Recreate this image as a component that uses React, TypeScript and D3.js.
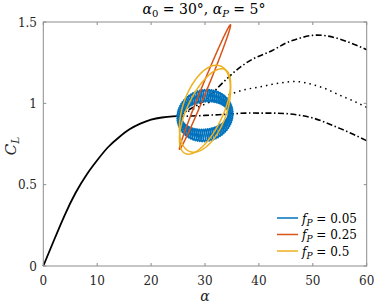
import React from "react";
import * as d3 from "d3";

// ---- data ----
const staticAlpha = [0, 2, 4, 6, 8, 10, 12, 14, 16, 18, 20, 22, 24, 25];
const staticCL = [0, 0.16, 0.315, 0.45, 0.56, 0.65, 0.73, 0.79, 0.84, 0.875, 0.9, 0.913, 0.92, 0.921];

const branchAlpha = [25, 27.5, 30, 32.5, 35, 37.5, 40, 42.5, 45, 47.5, 50, 52.5, 55, 57.5, 60];
const upperCL = [0.92, 0.97, 1.02, 1.1, 1.18, 1.245, 1.29, 1.325, 1.37, 1.4, 1.418, 1.415, 1.395, 1.365, 1.33];
const middleCL = [0.92, 0.96, 0.995, 1.03, 1.06, 1.085, 1.1, 1.117, 1.13, 1.133, 1.115, 1.088, 1.05, 1.015, 0.975];
const lowerCL = [0.92, 0.922, 0.926, 0.93, 0.935, 0.94, 0.94, 0.94, 0.937, 0.927, 0.91, 0.88, 0.846, 0.81, 0.77];

// loop descriptors: mean CL, in-phase and quadrature amplitudes
const alpha0 = 30;
const alphaP = 4.75;
const blueLoop = { c: 0.925, p: 0.012, q: 0.122 };
const blueRipple = { n: 25, aAlpha: 0.45, aCL: 0.038 };
const bluePhases = [0, 2.09, 4.19];
const redLoop = { c: 1.1, p: 0.38, q: 0.045 };
const yellowLoops = [
  { c: 0.967, p: 0.118, q: 0.24 },
  { c: 0.95, p: 0.17, q: 0.2 },
];

const xTicks = [0, 10, 20, 30, 40, 50, 60];
const yTicks = [0, 0.5, 1, 1.5];
const legendLabels = ["0.05", "0.25", "0.5"];
const colors = ["#0072BD", "#D95319", "#EDB120"];

const W = 374, H = 305;
const x = d3.scaleLinear().domain([0, 60]).range([43.3, 366.7]);
const y = d3.scaleLinear().domain([0, 1.5]).range([266, 22]);

const line = d3.line<[number, number]>().x(d => x(d[0])).y(d => y(d[1]));
const smooth = d3.line<[number, number]>().x(d => x(d[0])).y(d => y(d[1])).curve(d3.curveNatural);

function ellipse(l: { c: number; p: number; q: number }, steps = 240): [number, number][] {
  const pts: [number, number][] = [];
  for (let i = 0; i <= steps; i++) {
    const t = (i / steps) * Math.PI * 2;
    pts.push([alpha0 + alphaP * Math.sin(t), l.c + l.p * Math.sin(t) + l.q * Math.cos(t)]);
  }
  return pts;
}

function rippled(phase: number): [number, number][] {
  const pts: [number, number][] = [];
  const steps = 1200;
  for (let i = 0; i <= steps; i++) {
    const t = (i / steps) * Math.PI * 2;
    const w = Math.sin(blueRipple.n * t + phase);
    pts.push([
      alpha0 + alphaP * Math.sin(t) + blueRipple.aAlpha * Math.sin(t) * w,
      blueLoop.c + blueLoop.p * Math.sin(t) + blueLoop.q * Math.cos(t) + blueRipple.aCL * Math.cos(t) * w,
    ]);
  }
  return pts;
}

const serif = "'DejaVu Serif'";
const axisColor = "#8c8c8c";

export default function App() {
  const staticPts = staticAlpha.map((a, i) => [a, staticCL[i]] as [number, number]);
  const up = branchAlpha.map((a, i) => [a, upperCL[i]] as [number, number]);
  const mid = branchAlpha.map((a, i) => [a, middleCL[i]] as [number, number]);
  const low = branchAlpha.map((a, i) => [a, lowerCL[i]] as [number, number]);
  const x0 = x(0), x1 = x(60), y0 = y(0), y1 = y(1.5);
  const ts = { fontFamily: serif };
  return (
    <svg width={W} height={H} style={{ position: "absolute", left: 0, top: 0, background: "#fff" }}>
      <rect x={0} y={0} width={W} height={H} fill="#fff" />
      {/* curves */}
      <path d={smooth(staticPts) || ""} fill="none" stroke="#000" strokeWidth={1.8} />
      <path d={smooth(up) || ""} fill="none" stroke="#000" strokeWidth={1.6} strokeDasharray="6 2.5 1.5 2.5" />
      <path d={smooth(mid) || ""} fill="none" stroke="#000" strokeWidth={1.5} strokeDasharray="1.5 4" />
      <path d={smooth(low) || ""} fill="none" stroke="#000" strokeWidth={1.6} strokeDasharray="6 2.5 1.5 2.5" />
      {bluePhases.map((ph, i) => (
        <path key={"b" + i} d={line(rippled(ph)) || ""} fill="none" stroke={colors[0]} strokeWidth={1.5} />
      ))}
      <path d={line(ellipse(redLoop)) || ""} fill="none" stroke={colors[1]} strokeWidth={1.5} />
      {yellowLoops.map((l, i) => (
        <path key={"y" + i} d={line(ellipse(l)) || ""} fill="none" stroke={colors[2]} strokeWidth={1.5} />
      ))}
      {/* axes box */}
      <rect x={x0} y={y1} width={x1 - x0} height={y0 - y1} fill="none" stroke={axisColor} strokeWidth={1} />
      {xTicks.map(t => (
        <g key={"xt" + t}>
          <line x1={x(t)} x2={x(t)} y1={y0} y2={y0 - 3} stroke={axisColor} />
          <line x1={x(t)} x2={x(t)} y1={y1} y2={y1 + 3} stroke={axisColor} />
          <text style={ts} x={x(t)} y={285} textAnchor="middle" fontSize={12} fill="#262626">{t}</text>
        </g>
      ))}
      {yTicks.map(t => (
        <g key={"yt" + t}>
          <line x1={x0} x2={x0 + 3} y1={y(t)} y2={y(t)} stroke={axisColor} />
          <line x1={x1} x2={x1 - 3} y1={y(t)} y2={y(t)} stroke={axisColor} />
          <text style={ts} x={37} y={y(t) + 4.5} textAnchor="end" fontSize={12} fill="#262626">{t}</text>
        </g>
      ))}
      {/* labels */}
      <text style={ts} x={205} y={301} textAnchor="middle" fontSize={14} fontStyle="italic" fill="#262626">α</text>
      <text style={ts} transform="translate(16,146) rotate(-90)" textAnchor="middle" fontSize={15} fill="#262626">
        <tspan fontStyle="italic">C</tspan>
        <tspan fontStyle="italic" fontSize={10.5} dy={3}>L</tspan>
      </text>
      <text style={ts} x={204} y={14} textAnchor="middle" fontSize={14} fill="#000">
        <tspan fontStyle="italic">α</tspan>
        <tspan fontSize={10} dy={3}>0</tspan>
        <tspan dy={-3}> = 30°,  </tspan>
        <tspan fontStyle="italic">α</tspan>
        <tspan fontSize={10} fontStyle="italic" dy={3}>P</tspan>
        <tspan dy={-3}> = 5°</tspan>
      </text>
      {/* legend */}
      {legendLabels.map((lab, i) => {
        const ly = 218 + i * 16.5;
        return (
          <g key={"lg" + i}>
            <line x1={277} x2={298} y1={ly} y2={ly} stroke={colors[i]} strokeWidth={1.5} />
            <text style={ts} x={302} y={ly + 4.5} fontSize={12} fill="#000">
              <tspan fontStyle="italic">f</tspan>
              <tspan fontStyle="italic" fontSize={9} dy={3}>P</tspan>
              <tspan dy={-3}> = {lab}</tspan>
            </text>
          </g>
        );
      })}
    </svg>
  );
}
